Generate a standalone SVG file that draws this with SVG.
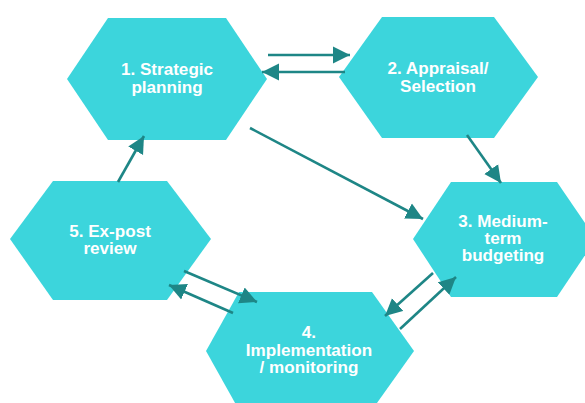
<svg xmlns="http://www.w3.org/2000/svg" width="585" height="403" viewBox="0 0 585 403">
  <style>
    .hex { fill: #3CD5DC; }
    .lbl { fill: #ffffff; font-family: "Liberation Sans", Arial, sans-serif; font-weight: bold; font-size: 16px; text-anchor: middle; }
    .arrow { stroke: #1E8686; stroke-width: 2.6; fill: none; marker-end: url(#head); }
  </style>
  <defs>
    <marker id="head" markerUnits="userSpaceOnUse" viewBox="0 -9 18 18" refX="17" refY="0" markerWidth="18" markerHeight="18" orient="auto">
      <path d="M0,-8.5 L17,0 L0,8.5 z" fill="#1E8686"/>
    </marker>
  </defs>
  <rect width="585" height="403" fill="#ffffff"/>

  <!-- process stages; labels are slightly widened horizontally -->
  <g id="node-1">
    <polygon class="hex" points="108,18 226,18 267,79 226,140 108,140 67,79"/>
    <g transform="translate(167,0) scale(1.07,1)">
      <text class="lbl" x="0" y="75">1. Strategic</text>
      <text class="lbl" x="0" y="93">planning</text>
    </g>
  </g>
  <g id="node-2">
    <polygon class="hex" points="382,17 494,17 538,77 494,138 382,138 339,77"/>
    <g transform="translate(438,0) scale(1.07,1)">
      <text class="lbl" x="0" y="74">2. Appraisal/</text>
      <text class="lbl" x="0" y="92">Selection</text>
    </g>
  </g>
  <g id="node-3">
    <polygon class="hex" points="451,182 557,182 596,239 557,297 451,297 413,239"/>
    <g transform="translate(503,0) scale(1.07,1)">
      <text class="lbl" x="0" y="227">3. Medium-</text>
      <text class="lbl" x="0" y="244">term</text>
      <text class="lbl" x="0" y="261">budgeting</text>
    </g>
  </g>
  <g id="node-4">
    <polygon class="hex" points="239,292 372,292 414,351 372,410 239,410 206,351"/>
    <g transform="translate(309,0) scale(1.07,1)">
      <text class="lbl" x="0" y="338">4.</text>
      <text class="lbl" x="0" y="356">Implementation</text>
      <text class="lbl" x="0" y="373">/ monitoring</text>
    </g>
  </g>
  <g id="node-5">
    <polygon class="hex" points="53,181 167,181 211,239 167,300 53,300 10,239"/>
    <g transform="translate(110,0) scale(1.07,1)">
      <text class="lbl" x="0" y="237">5. Ex-post</text>
      <text class="lbl" x="0" y="254">review</text>
    </g>
  </g>

  <!-- flows between stages -->
  <g id="connectors">
    <line class="arrow" x1="268" y1="55" x2="350" y2="55"/>
    <line class="arrow" x1="345" y1="72" x2="262" y2="72"/>
    <line class="arrow" x1="467" y1="135" x2="501" y2="183"/>
    <line class="arrow" x1="250" y1="128" x2="423" y2="219"/>
    <line class="arrow" x1="118" y1="182" x2="144" y2="136"/>
    <line class="arrow" x1="184" y1="271" x2="257" y2="302"/>
    <line class="arrow" x1="233" y1="313" x2="169" y2="285"/>
    <line class="arrow" x1="433" y1="273" x2="385" y2="316"/>
    <line class="arrow" x1="400" y1="329" x2="456" y2="277"/>
  </g>
</svg>
